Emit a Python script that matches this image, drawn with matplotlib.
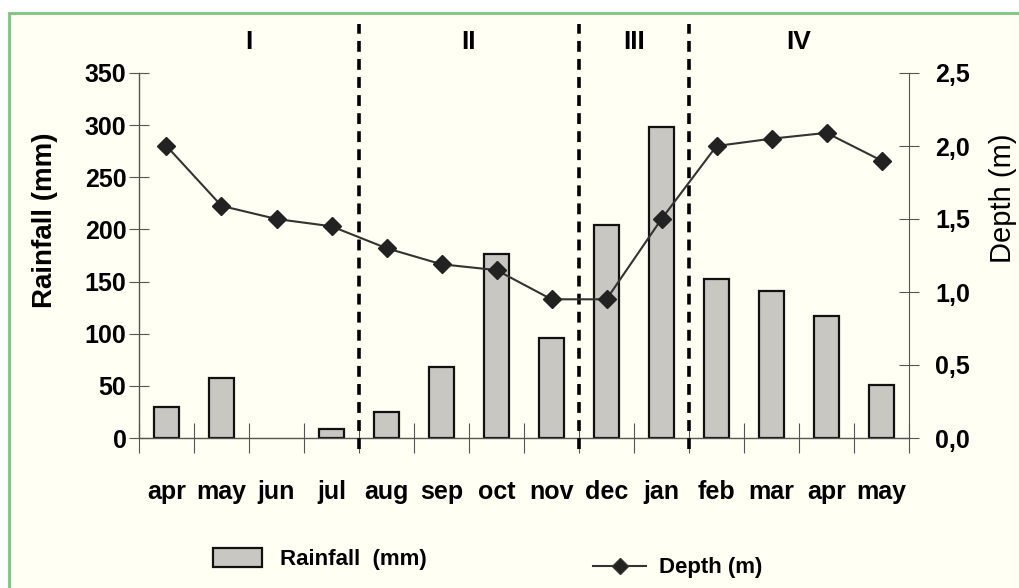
import numpy as np
import matplotlib.pyplot as plt
from matplotlib.patches import Rectangle, Patch
from matplotlib.lines import Line2D

months = ['apr', 'may', 'jun', 'jul', 'aug', 'sep', 'oct', 'nov',
          'dec', 'jan', 'feb', 'mar', 'apr', 'may']
rainfall = [30, 58, 0, 9, 25, 68, 176, 96, 204, 298, 152, 141, 117, 51]
depth = [2.0, 1.59, 1.5, 1.45, 1.30, 1.19, 1.15, 0.95, 0.95, 1.5, 2.0, 2.05, 2.09, 1.90]
periods = ['I', 'II', 'III', 'IV']
period_bounds = [0, 4, 8, 10, 14]   # category index where each period starts / ends

font = ['Liberation Sans', 'DejaVu Sans']

fig = plt.figure(figsize=(10.2, 5.88), dpi=100)
fig.patch.set_facecolor('white')
# cream panel with green border
fig.patches.append(Rectangle((9 / 1020, -0.05), 1.1, (588 - 13) / 588 + 0.05,
                             transform=fig.transFigure, facecolor='#fffff3',
                             edgecolor='#7cc47c', lw=2, zorder=-10))

ax = fig.add_axes([139 / 1020, 150 / 588, 770 / 1020, 365 / 588])
ax.set_facecolor('none')
x = np.arange(len(months))
# zero months have no bar drawn at all
xs = [i for i, v in enumerate(rainfall) if v > 0]
ax.bar(xs, [rainfall[i] for i in xs], width=0.46, color='#c9c7c2',
       edgecolor='#111111', lw=1.6, zorder=2)
ax.set_xlim(-0.5, len(months) - 0.5)
ax.set_ylim(0, 350)
ax.set_yticks(range(0, 351, 50))
ax.set_xticks(np.arange(-0.5, len(months), 1))
ax.set_xticklabels([])
ax.set_xticks(x, minor=True)
ax.set_xticklabels(months, minor=True, fontfamily=font, fontweight='bold', fontsize=18)
ax.tick_params(axis='x', which='minor', length=0, pad=30)
ax.tick_params(axis='x', which='major', direction='inout', length=22, color='#555555')
ax.tick_params(axis='y', direction='inout', length=14, color='#555555', pad=2)
for lab in ax.get_yticklabels():
    lab.set_fontfamily(font)
    lab.set_fontweight('bold')
    lab.set_fontsize(18)
for s in ['top', 'right']:
    ax.spines[s].set_visible(False)
for s in ['left', 'bottom']:
    ax.spines[s].set_color('#555555')
    ax.spines[s].set_linewidth(1.0)

ax2 = ax.twinx()
ax2.plot(x, depth, color='#333333', lw=1.5, marker='D', markersize=9,
         markerfacecolor='#222222', markeredgecolor='#222222', zorder=3)
ax2.set_ylim(0, 2.5)
ax2.set_yticks(np.arange(0, 2.51, 0.5))
ax2.set_yticklabels([f'{v:.1f}'.replace('.', ',') for v in np.arange(0, 2.51, 0.5)],
                    fontfamily=font, fontweight='bold', fontsize=18)
ax2.tick_params(axis='y', direction='inout', length=14, color='#555555', pad=12)
for s in ['top', 'left', 'bottom']:
    ax2.spines[s].set_visible(False)
ax2.spines['right'].set_color('#555555')

# period separators and labels
for b in period_bounds[1:-1]:
    ax.axvline(b - 0.5, ymin=-0.03, ymax=1.134, color='black', ls=(0, (3, 2)),
               lw=2.6, clip_on=False, zorder=4)
for i, p in enumerate(periods):
    mid = (period_bounds[i] + period_bounds[i + 1]) / 2 - 0.5
    ax.text(mid, 1.085, p, transform=ax.get_xaxis_transform(), ha='center',
            va='center', fontfamily=font, fontweight='bold', fontsize=19)

fig.text(45 / 1020, 1 - 220 / 588, 'Rainfall (mm)', rotation=90, ha='center',
         va='center', fontfamily=font, fontweight='bold', fontsize=20)
fig.text(1003 / 1020, 1 - 198 / 588, 'Depth (m)', rotation=90, ha='center',
         va='center', fontfamily=font, fontsize=21)

fig.legend(handles=[Patch(facecolor='#c9c7c2', edgecolor='#111111', lw=1.6)],
           labels=['Rainfall  (mm)'], loc='center left',
           bbox_to_anchor=(193 / 1020, 1 - 559 / 588), frameon=False,
           handlelength=2.2, handleheight=0.9, handletextpad=0.8,
           prop={'family': font, 'size': 16, 'weight': 'bold'})
fig.legend(handles=[Line2D([], [], color='#333333', lw=1.5, marker='D', markersize=8,
                           markerfacecolor='#222222')],
           labels=['Depth (m)'], loc='center left',
           bbox_to_anchor=(573 / 1020, 1 - 568 / 588), frameon=False,
           handlelength=2.4, handletextpad=0.55,
           prop={'family': font, 'size': 16, 'weight': 'bold'})

fig.savefig('out.png', dpi=100, facecolor=fig.get_facecolor())
